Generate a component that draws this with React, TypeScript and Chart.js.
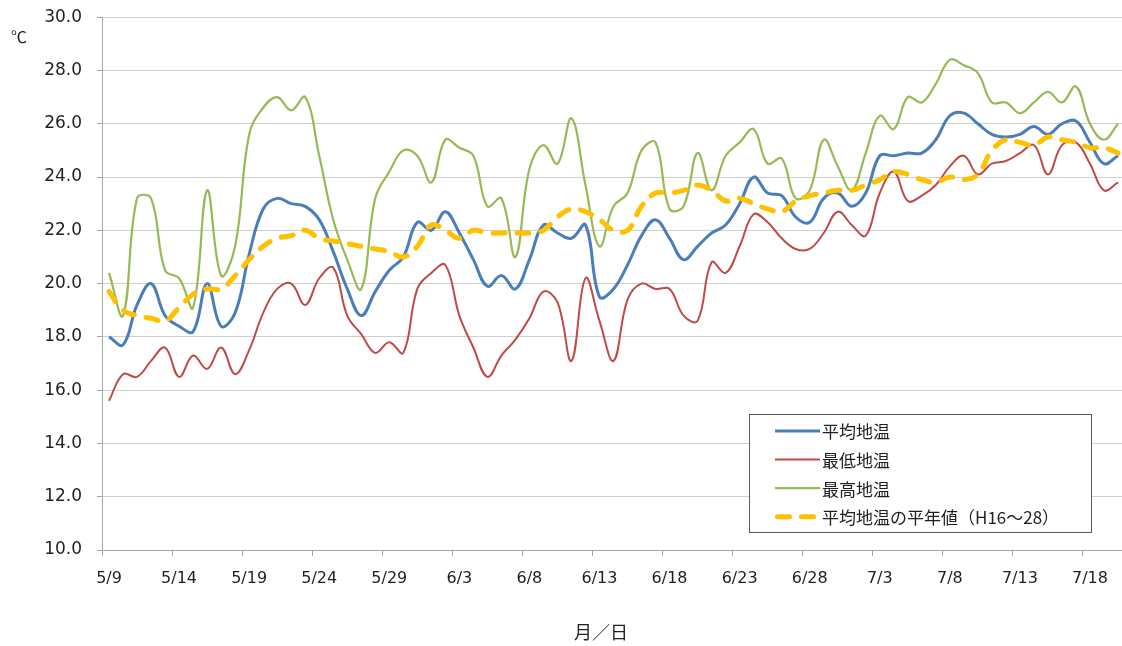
import React, { useEffect, useRef } from "react";
import { Chart, registerables } from "chart.js";

Chart.register(...registerables);

const categories = [
  "5/9", "5/10", "5/11", "5/12", "5/13", "5/14", "5/15", "5/16", "5/17", "5/18",
  "5/19", "5/20", "5/21", "5/22", "5/23", "5/24", "5/25", "5/26", "5/27", "5/28",
  "5/29", "5/30", "5/31", "6/1", "6/2", "6/3", "6/4", "6/5", "6/6", "6/7",
  "6/8", "6/9", "6/10", "6/11", "6/12", "6/13", "6/14", "6/15", "6/16", "6/17",
  "6/18", "6/19", "6/20", "6/21", "6/22", "6/23", "6/24", "6/25", "6/26", "6/27",
  "6/28", "6/29", "6/30", "7/1", "7/2", "7/3", "7/4", "7/5", "7/6", "7/7",
  "7/8", "7/9", "7/10", "7/11", "7/12", "7/13", "7/14", "7/15", "7/16", "7/17",
  "7/18", "7/19", "7/20",
];

const avgTemp = [
  18.0, 17.7, 19.2, 20.0, 18.8, 18.4, 18.2, 20.0, 18.4, 18.9,
  21.1, 22.8, 23.2, 23.0, 22.9, 22.4, 21.2, 19.8, 18.8, 19.7,
  20.5, 21.0, 22.3, 22.0, 22.7, 21.9, 20.9, 19.9, 20.3, 19.8,
  20.9, 22.2, 21.9, 21.7, 22.2, 19.5, 19.8, 20.7, 21.8, 22.4,
  21.7, 20.9, 21.4, 21.9, 22.2, 23.0, 24.0, 23.4, 23.3, 22.5,
  22.3, 23.2, 23.4, 22.9, 23.4, 24.8, 24.8, 24.9, 24.9, 25.4,
  26.3, 26.4, 26.0, 25.6, 25.5, 25.6, 25.9, 25.6, 26.0, 26.1,
  25.3, 24.5, 24.8,
];

const minTemp = [
  15.6, 16.6, 16.5, 17.1, 17.6, 16.5, 17.3, 16.8, 17.6, 16.6,
  17.5, 18.9, 19.8, 20.0, 19.2, 20.2, 20.6, 18.8, 18.1, 17.4,
  17.8, 17.4, 19.8, 20.4, 20.7, 18.8, 17.6, 16.5, 17.3, 17.9,
  18.7, 19.7, 19.3, 17.1, 20.2, 18.6, 17.1, 19.4, 20.0, 19.8,
  19.8, 18.8, 18.6, 20.8, 20.4, 21.4, 22.6, 22.3, 21.7, 21.3,
  21.3, 21.9, 22.7, 22.2, 21.8, 23.4, 24.2, 23.1, 23.3, 23.7,
  24.4, 24.8, 24.1, 24.5, 24.6, 24.9, 25.2, 24.1, 25.2, 25.3,
  24.5, 23.5, 23.8,
];

const maxTemp = [
  20.4, 18.8, 23.2, 23.2, 20.5, 20.2, 19.1, 23.5, 20.3, 21.4,
  25.6, 26.6, 27.0, 26.5, 27.0, 24.8, 22.4, 20.9, 19.8, 23.2,
  24.2, 25.0, 24.8, 23.8, 25.4, 25.1, 24.8, 22.9, 23.2, 21.0,
  24.3, 25.2, 24.5, 26.2, 23.7, 21.4, 22.9, 23.4, 25.0, 25.3,
  22.8, 22.9, 24.9, 23.5, 24.8, 25.3, 25.8, 24.5, 24.7, 23.2,
  23.5, 25.4, 24.4, 23.5, 24.9, 26.3, 25.8, 27.0, 26.8, 27.5,
  28.4, 28.2, 27.9, 26.8, 26.8, 26.4, 26.8, 27.2, 26.8, 27.4,
  26.0, 25.4, 26.0,
];

const normalTemp = [
  19.7, 19.0, 18.8, 18.7, 18.6, 19.1, 19.6, 19.8, 19.8, 20.3,
  20.9, 21.4, 21.7, 21.8, 22.0, 21.7, 21.6, 21.5, 21.4, 21.3,
  21.2, 21.0, 21.4, 22.2, 22.0, 21.7, 22.0, 21.9, 21.9, 21.9,
  21.9, 22.0, 22.5, 22.8, 22.7, 22.4, 22.0, 22.0, 22.9, 23.4,
  23.4, 23.5, 23.7, 23.5, 23.1, 23.2, 23.0, 22.8, 22.7, 23.1,
  23.3, 23.4, 23.5, 23.5, 23.7, 23.9, 24.2, 24.1, 23.9, 23.8,
  24.0, 23.9, 24.1, 25.0, 25.4, 25.3, 25.2, 25.5, 25.4, 25.3,
  25.1, 25.1, 24.9,
];

const seriesNames = ["平均地温", "最低地温", "最高地温", "平均地温の平年値（H16～28）"];
const yUnit = "℃";
const xTitle = "月／日";

const FONT = '"Noto Sans CJK JP", "Noto Sans", sans-serif';
const NUM_FONT = '"DejaVu Sans", "Noto Sans CJK JP", sans-serif';
const TEXT = "#1f1f1f";

const decorPlugin = {
  id: "decor",
  afterDraw(chart: any) {
    const { ctx, chartArea } = chart;
    ctx.save();
    // unit label
    ctx.fillStyle = TEXT;
    ctx.font = `16px ${FONT}`;
    ctx.textAlign = "left";
    ctx.textBaseline = "middle";
    ctx.fillText(yUnit, 11, chartArea.top + 20);
    // x title
    ctx.font = `18px ${FONT}`;
    ctx.textAlign = "center";
    ctx.fillText(xTitle, chartArea.left + 499, chartArea.bottom + 82);

    // legend box
    const w = 342;
    const h = 118;
    const x = chartArea.right - 376;
    const y = chartArea.bottom - 136;
    ctx.fillStyle = "#ffffff";
    ctx.fillRect(x, y, w, h);
    ctx.strokeStyle = "#595959";
    ctx.lineWidth = 1;
    ctx.strokeRect(Math.round(x) + 0.5, Math.round(y) + 0.5, w, h);
    chart.data.datasets.forEach((ds: any, i: number) => {
      const rowY = y + 17 + i * 28.6;
      ctx.beginPath();
      ctx.setLineDash(ds.borderDash || []);
      ctx.lineCap = ds.borderCapStyle || "butt";
      ctx.strokeStyle = ds.borderColor;
      ctx.lineWidth = ds.borderWidth;
      const cap = ds.borderCapStyle === "round" ? ds.borderWidth / 2 : 0;
      ctx.moveTo(x + 26 + cap, rowY);
      ctx.lineTo(x + 71 - cap, rowY);
      ctx.stroke();
      ctx.setLineDash([]);
      ctx.fillStyle = TEXT;
      ctx.font = `17px ${FONT}`;
      ctx.textAlign = "left";
      ctx.textBaseline = "middle";
      ctx.fillText(ds.label, x + 73, rowY + 1);
    });
    ctx.restore();
  },
};

export default function App() {
  const canvasRef = useRef<HTMLCanvasElement | null>(null);

  useEffect(() => {
    if (!canvasRef.current) return;
    const chart = new Chart(canvasRef.current, {
      type: "line",
      data: {
        labels: categories,
        datasets: [
          {
            label: seriesNames[0],
            data: avgTemp,
            borderColor: "#4A7EBB",
            borderWidth: 3,
            pointRadius: 0,
            tension: 0.4,
            order: 4,
          },
          {
            label: seriesNames[1],
            data: minTemp,
            borderColor: "#BE4B48",
            borderWidth: 2,
            pointRadius: 0,
            tension: 0.4,
            order: 3,
          },
          {
            label: seriesNames[2],
            data: maxTemp,
            borderColor: "#98B954",
            borderWidth: 2.2,
            pointRadius: 0,
            tension: 0.4,
            order: 2,
          },
          {
            label: seriesNames[3],
            data: normalTemp,
            borderColor: "#FFC000",
            borderWidth: 5,
            borderDash: [12, 12],
            borderCapStyle: "round",
            pointRadius: 0,
            tension: 0.4,
            order: 1,
          },
        ],
      },
      options: {
        animation: false,
        responsive: true,
        maintainAspectRatio: false,
        layout: { padding: { top: 0, right: 0, bottom: 0, left: 0 } },
        plugins: {
          legend: { display: false },
          tooltip: { enabled: false },
        },
        scales: {
          x: {
            type: "category",
            offset: true,
            afterFit: (scale: any) => {
              scale.height = 96;
            },
            grid: {
              offset: true,
              drawOnChartArea: false,
              drawTicks: true,
              tickLength: 6,
              tickColor: (c: any) => (c.index % 5 === 0 ? "#a6a6a6" : "rgba(0,0,0,0)"),
            },
            border: { display: true, color: "#a6a6a6" },
            ticks: {
              autoSkip: false,
              maxRotation: 0,
              minRotation: 0,
              padding: 13,
              color: TEXT,
              font: { family: NUM_FONT, size: 16 },
              callback: (_v: any, i: number) => (i % 5 === 0 ? categories[i] : ""),
            },
          },
          y: {
            min: 10,
            max: 30,
            afterFit: (scale: any) => {
              scale.width = 102;
            },
            grid: {
              color: "#cfcfcf",
              lineWidth: 1,
              drawTicks: true,
              tickLength: 5,
              tickColor: "#a6a6a6",
            },
            border: { display: true, color: "#a6a6a6" },
            ticks: {
              stepSize: 2,
              padding: 15,
              color: TEXT,
              font: { family: NUM_FONT, size: 17 },
              callback: (v: any) => Number(v).toFixed(1),
            },
          },
        },
      },
      plugins: [decorPlugin],
    });
    return () => chart.destroy();
  }, []);

  return (
    <div style={{ position: "absolute", left: 0, top: 0, width: 1122, height: 646, overflow: "hidden", background: "#fff" }}>
      <div style={{ position: "absolute", left: 0, top: -8, width: 1131, height: 654 }}>
        <canvas ref={canvasRef} />
      </div>
    </div>
  );
}
